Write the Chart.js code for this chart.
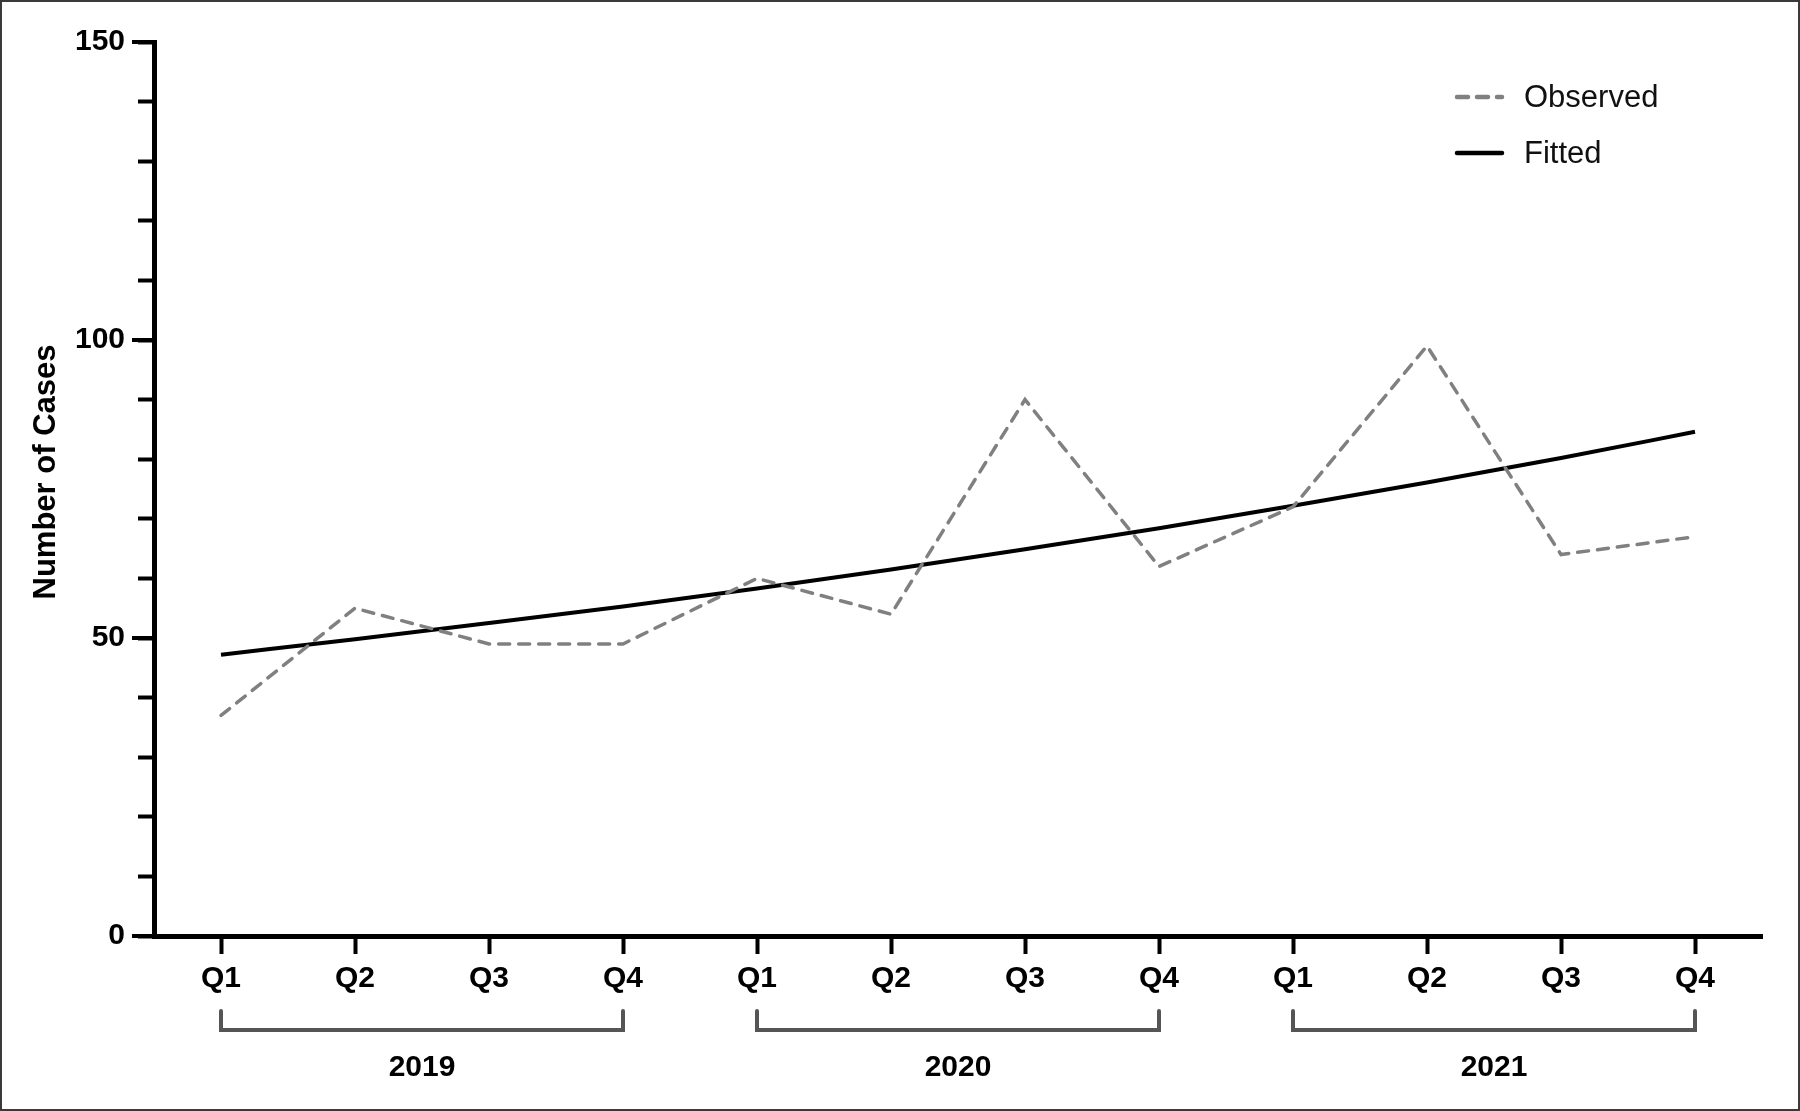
<!DOCTYPE html>
<html><head><meta charset="utf-8">
<script src="https://cdn.jsdelivr.net/npm/chart.js@4.4.1/dist/chart.umd.min.js"></script>
<style>html,body{margin:0;padding:0;background:#fff;overflow:hidden}</style>
</head><body>
<canvas id="c" width="1800" height="1111"></canvas>
<script>
const quarters = ['Q1','Q2','Q3','Q4','Q1','Q2','Q3','Q4','Q1','Q2','Q3','Q4'];
const years = ['2019','2020','2021'];
const observed = [37,55,49,49,60,54,90,62,72,99,64,67];
const fitted = [47.2,49.8,52.5,55.3,58.3,61.5,64.9,68.4,72.2,76.1,80.2,84.6];
const yLabelled = [0,50,100,150];
const seriesNames = ['Observed','Fitted'];
const yTitle = 'Number of Cases';

const FONT = "'Liberation Sans', Arial, Helvetica, sans-serif";
Chart.defaults.font.family = FONT;
Chart.defaults.color = '#000';

const framePlugin = {
  id: 'frame',
  beforeDraw(chart) {
    const c = chart.ctx;
    c.save();
    c.fillStyle = '#fff';
    c.fillRect(0, 0, chart.width, chart.height);
    c.restore();
  },
  afterDraw(chart) {
    const c = chart.ctx;
    const xs = chart.scales.x;
    const ys = chart.scales.y;
    c.save();
    // outer border
    c.strokeStyle = '#3a3a3a';
    c.lineWidth = 2;
    c.strokeRect(1, 1, chart.width - 2, chart.height - 2);
    // longer major ticks on y axis
    c.strokeStyle = '#000';
    c.lineWidth = 4;
    c.lineCap = 'butt';
    yLabelled.forEach(v => {
      const py = Math.round(ys.getPixelForValue(v));
      c.beginPath();
      c.moveTo(132, py);
      c.lineTo(152, py);
      c.stroke();
    });
    // y title
    c.save();
    c.translate(46, 472);
    c.rotate(-Math.PI / 2);
    c.fillStyle = '#000';
    c.font = 'bold 31px ' + FONT;
    c.textAlign = 'center';
    c.textBaseline = 'middle';
    c.fillText(yTitle, 0, 0);
    c.restore();
    // year brackets
    c.strokeStyle = '#555';
    c.lineWidth = 4;
    c.lineCap = 'round';
    c.lineJoin = 'miter';
    years.forEach((yr, i) => {
      const x1 = xs.getPixelForValue(i * 4);
      const x2 = xs.getPixelForValue(i * 4 + 3);
      c.beginPath();
      c.moveTo(x1, 1011);
      c.lineTo(x1, 1030);
      c.lineTo(x2, 1030);
      c.lineTo(x2, 1011);
      c.stroke();
      c.fillStyle = '#000';
      c.font = 'bold 30px ' + FONT;
      c.textAlign = 'center';
      c.textBaseline = 'middle';
      c.fillText(yr, (x1 + x2) / 2, 1068);
    });
    // legend
    const ds = chart.data.datasets;
    const rows = [97, 153];
    ds.forEach((d, i) => {
      const y = rows[i];
      c.beginPath();
      c.strokeStyle = d.borderColor;
      c.lineWidth = 4.5;
      c.lineCap = 'round';
      c.setLineDash(d.borderDash || []);
      c.moveTo(1457, y);
      c.lineTo(1502, y);
      c.stroke();
      c.setLineDash([]);
      c.fillStyle = '#111';
      c.font = '31px ' + FONT;
      c.textAlign = 'left';
      c.textBaseline = 'middle';
      c.fillText(d.label, 1524, y + 1);
    });
    c.restore();
  }
};

new Chart(document.getElementById('c'), {
  type: 'line',
  data: {
    labels: quarters,
    datasets: [
      {
        label: seriesNames[0],
        data: observed,
        borderColor: '#808080',
        borderWidth: 3.5,
        borderDash: [11, 9],
        borderCapStyle: 'round',
        pointRadius: 0,
        tension: 0,
        fill: false
      },
      {
        label: seriesNames[1],
        data: fitted,
        borderColor: '#000',
        borderWidth: 4,
        pointRadius: 0,
        cubicInterpolationMode: 'monotone',
        fill: false
      }
    ]
  },
  options: {
    responsive: false,
    devicePixelRatio: 1,
    animation: false,
    layout: { padding: { top: 42, right: 38, bottom: 0, left: 0 } },
    plugins: { legend: { display: false }, tooltip: { enabled: false } },
    scales: {
      x: {
        type: 'category',
        offset: true,
        border: { display: true, color: '#000', width: 5 },
        grid: { display: true, drawOnChartArea: false, drawTicks: true, tickLength: 18, tickWidth: 4, tickColor: '#000' },
        ticks: { font: { size: 30, weight: 'bold' }, color: '#000', padding: 7, maxRotation: 0, autoSkip: false },
        afterFit(scale) { scale.height = 175; }
      },
      y: {
        min: 0,
        max: 150,
        border: { display: true, color: '#000', width: 5 },
        grid: { display: true, drawOnChartArea: false, drawTicks: true, tickLength: 16, tickWidth: 4, tickColor: '#000' },
        ticks: {
          stepSize: 10,
          autoSkip: false,
          font: { size: 30, weight: 'bold' },
          color: '#000',
          padding: 13,
          callback: (v) => yLabelled.includes(v) ? String(v) : ''
        },
        title: { display: false },
        afterFit(scale) { scale.width = 154; }
      }
    }
  },
  plugins: [framePlugin]
});
</script>
</body></html>
